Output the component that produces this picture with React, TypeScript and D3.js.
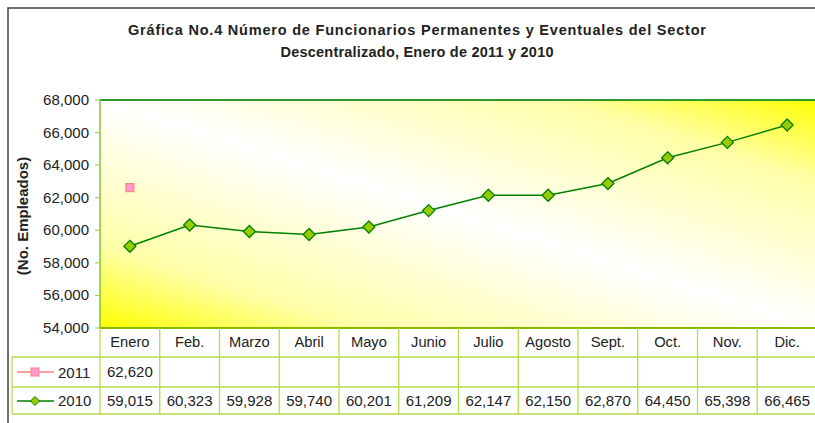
import React from "react";
import * as d3 from "d3";

const categories = ["Enero", "Feb.", "Marzo", "Abril", "Mayo", "Junio", "Julio", "Agosto", "Sept.", "Oct.", "Nov.", "Dic."];
const values2011: (number | null)[] = [62620, null, null, null, null, null, null, null, null, null, null, null];
const values2010 = [59015, 60323, 59928, 59740, 60201, 61209, 62147, 62150, 62870, 64450, 65398, 66465];
const yTicks = [54000, 56000, 58000, 60000, 62000, 64000, 66000, 68000];
const titleLines = [
  "Gráfica No.4 Número de Funcionarios Permanentes y Eventuales del Sector",
  "Descentralizado, Enero de 2011 y 2010",
];
const titleWidths = [578, 273];
const yTitle = "(No. Empleados)";

const W = 815;
const H = 423;
const plotL = 100;
const plotT = 100;
const plotB = 328;
const colW = 59.75;
const plotR = plotL + colW * categories.length;

const FONT = "'Liberation Sans', Arial, sans-serif";
const fmt = d3.format(",");

export default function App() {
  const x = d3
    .scaleBand<string>()
    .domain(categories)
    .range([plotL, plotR]);
  const y = d3.scaleLinear().domain([54000, 68000]).range([plotB, plotT]);
  const cx = (c: string) => (x(c) as number) + x.bandwidth() / 2;

  const line = d3
    .line<number>()
    .x((_, i) => cx(categories[i]))
    .y((d) => y(d));

  const row1 = 357;
  const row2 = 387;
  const row3 = 414;
  const tableLeft = 12;
  const gridColor = "#b5dc4a";

  const diamond = (px: number, py: number, r: number) =>
    `M${px},${py - r}L${px + r},${py}L${px},${py + r}L${px - r},${py}Z`;

  return (
    <svg
      width={W}
      height={H}
      style={{ position: "absolute", left: 0, top: 0, background: "#fff" }}
      fontFamily={FONT}
    >
      <defs>
        <linearGradient id="bg" x1="0" y1="1" x2="1" y2="0">
          <stop offset="0" stopColor="#ffff00" />
          <stop offset="0.18" stopColor="#ffffa8" />
          <stop offset="0.5" stopColor="#ffffff" />
          <stop offset="0.82" stopColor="#ffffa8" />
          <stop offset="1" stopColor="#ffff00" />
        </linearGradient>
      </defs>
      {/* outer frame */}
      <rect x={8} y={8} width={W + 20} height={H + 20} fill="#fff" stroke="#404040" strokeWidth={1.5} />

      {/* title */}
      {titleLines.map((t, i) => (
        <text
          key={i}
          x={417}
          y={35 + i * 22}
          textAnchor="middle"
          fontSize={14.5}
          fontWeight="bold"
          fill="#222"
          textLength={titleWidths[i]}
          lengthAdjust="spacing"
        >
          {t}
        </text>
      ))}

      {/* plot area */}
      <rect x={plotL} y={plotT} width={plotR - plotL} height={plotB - plotT} fill="url(#bg)" />
      <line x1={plotL} x2={plotR} y1={plotT} y2={plotT} stroke="#2e9a2e" strokeWidth={2} />
      <line x1={plotL} x2={plotL} y1={plotT} y2={plotB} stroke="#80c040" strokeWidth={1.5} />
      <line x1={plotL} x2={plotR} y1={plotB} y2={plotB} stroke="#88b800" strokeWidth={2} />

      {/* y axis */}
      {yTicks.map((t) => (
        <g key={t}>
          <line x1={95} x2={plotL} y1={y(t)} y2={y(t)} stroke="#99cc33" strokeWidth={1} />
          <text x={89} y={y(t) + 5} textAnchor="end" fontSize={15} fill="#222">
            {fmt(t)}
          </text>
        </g>
      ))}
      <text
        transform={`translate(28,${(plotT + plotB) / 2 + 2}) rotate(-90)`}
        textAnchor="middle"
        fontSize={15}
        fontWeight="bold"
        fill="#222"
      >
        {yTitle}
      </text>

      {/* series 2010 */}
      <path d={line(values2010) as string} fill="none" stroke="#008000" strokeWidth={1.5} />
      {values2010.map((v, i) => (
        <path
          key={i}
          d={diamond(cx(categories[i]), y(v), 6)}
          fill="#99cc00"
          stroke="#008000"
          strokeWidth={1.3}
        />
      ))}
      {/* series 2011 */}
      {values2011.map((v, i) =>
        v == null ? null : (
          <rect
            key={i}
            x={cx(categories[i]) - 4}
            y={y(v) - 4}
            width={8}
            height={8}
            fill="#ff99cc"
            stroke="#ff8080"
            strokeWidth={1.2}
          />
        )
      )}

      {/* data table */}
      <g stroke={gridColor} strokeWidth={1.3}>
        {categories.map((c) => (
          <line key={c} x1={x(c) as number} x2={x(c) as number} y1={plotB} y2={row3} />
        ))}
        <line x1={plotR} x2={plotR} y1={plotB} y2={row3} />
        <line x1={tableLeft} x2={tableLeft} y1={row1} y2={row3} />
        <line x1={tableLeft} x2={plotR} y1={row1} y2={row1} />
        <line x1={tableLeft} x2={plotR} y1={row2} y2={row2} />
        <line x1={tableLeft} x2={plotR} y1={row3} y2={row3} />
      </g>
      {categories.map((c) => (
        <text key={c} x={cx(c)} y={347} textAnchor="middle" fontSize={14.7} fill="#222">
          {c}
        </text>
      ))}
      {values2011.map((v, i) =>
        v == null ? null : (
          <text key={i} x={cx(categories[i])} y={377} textAnchor="middle" fontSize={15} fill="#222">
            {fmt(v)}
          </text>
        )
      )}
      {values2010.map((v, i) => (
        <text key={i} x={cx(categories[i])} y={406} textAnchor="middle" fontSize={15} fill="#222">
          {fmt(v)}
        </text>
      ))}

      {/* legend keys */}
      <line x1={17} x2={54} y1={372} y2={372} stroke="#ff8080" strokeWidth={1.3} />
      <rect x={31} y={368} width={8} height={8} fill="#ff99cc" stroke="#ff8080" strokeWidth={1} />
      <text x={58} y={378} fontSize={15} fill="#222">2011</text>
      <line x1={17} x2={54} y1={401} y2={401} stroke="#008000" strokeWidth={1.3} />
      <path d={diamond(35, 401, 4.5)} fill="#99cc00" stroke="#008000" strokeWidth={1} />
      <text x={58} y={406} fontSize={15} fill="#222">2010</text>
    </svg>
  );
}
